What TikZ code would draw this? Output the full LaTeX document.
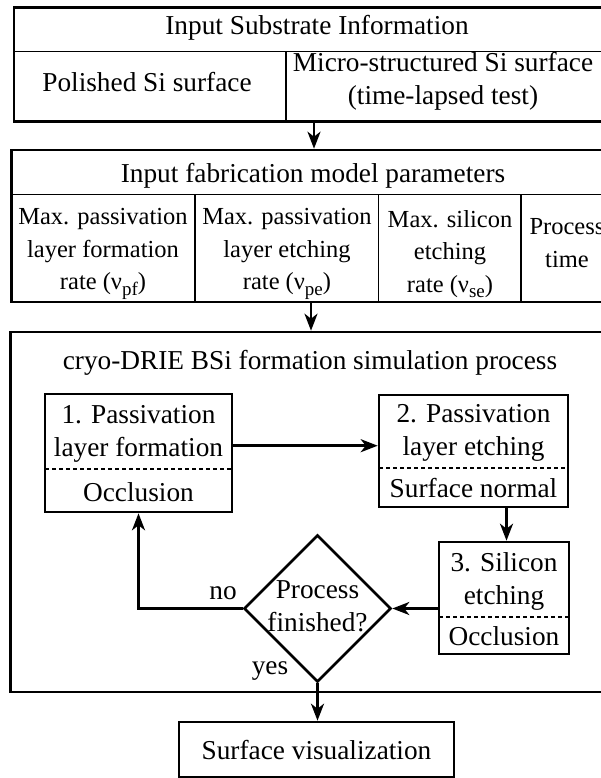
\documentclass[tikz,border=0pt]{standalone}
\usepackage{fontspec}
\setmainfont{Liberation Serif}
\usetikzlibrary{arrows.meta,shapes.geometric}
\newcommand\sbt[1]{\raisebox{-5.5pt}{\fontsize{19}{19}\selectfont #1}}
\begin{document}
\begin{tikzpicture}[x=1pt,y=-1pt,
  every node/.style={font=\fontsize{27.3}{33}\selectfont, inner sep=0pt, align=center},
  celltext/.style={font=\fontsize{24.5}{32.5}\selectfont},
  thickbox/.style={draw, line width=2.6pt},
  thinline/.style={line width=1.3pt},
  dashline/.style={line width=1.2pt, dash pattern=on 4pt off 3pt},
  arr/.style={line width=2.6pt, -{Stealth[length=17pt,width=13pt,inset=5pt]}}
]
\useasboundingbox (0,0) rectangle (601,778);
\clip (0,0) rectangle (601,778);

% ---- Box 1: substrate information
\node[thickbox, minimum width=606pt, minimum height=114pt] (sub) at (317,64.5) {};
\draw[thinline] (14,51.5) -- (620,51.5);
\draw[thinline] (286,51.5) -- (286,121.5);
\node (subT) at (317,28) {Input Substrate Information};
\node (subA) at (147,82) {Polished Si surface};
\node (subB) at (443,81) {Micro-structured Si surface\\(time-lapsed test)};

% ---- Box 2: model parameters
\node[thickbox, minimum width=608.5pt, minimum height=152pt] (par) at (315.75,226) {};
\draw[thinline] (11.5,194.5) -- (620,194.5);
\draw[thinline] (195,194.5) -- (195,302);
\draw[thinline] (378.5,194.5) -- (378.5,302);
\draw[thinline] (521,194.5) -- (521,302);
\node (parT) at (313,176) {Input fabrication model parameters};
\node[celltext] (parA) at (103,254) {Max. passivation\\layer formation\\rate (ν\sbt{pf})};
\node[celltext] (parB) at (287,254) {Max. passivation\\layer etching\\rate (ν\sbt{pe})};
\node[celltext] (parC) at (450,254) {Max. silicon\\etching\\rate (ν\sbt{se})};
\node[celltext] (parD) at (567,243) {Process\\time};

% ---- Big box: simulation process
\node[thickbox, minimum width=609.5pt, minimum height=360pt] (sim) at (315.25,512) {};
\node (simT) at (310,363) {cryo-DRIE BSi formation simulation process};

% step 1
\node[thickbox, minimum width=187pt, minimum height=118pt] (s1) at (138.5,453) {};
\draw[dashline] (45,469) -- (232,469);
\node (s1a) at (138.5,434) {1. Passivation\\layer formation};
\node (s1b) at (138.5,492) {Occlusion};

% step 2
\node[thickbox, minimum width=189pt, minimum height=112pt] (s2) at (473.5,451) {};
\draw[dashline] (379,468) -- (568,468);
\node (s2a) at (473.5,433) {2. Passivation\\layer etching};
\node (s2b) at (473.5,488) {Surface normal};

% step 3
\node[thickbox, minimum width=130pt, minimum height=112pt] (s3) at (504,598) {};
\draw[dashline] (439,617) -- (569,617);
\node (s3a) at (504,581) {3. Silicon\\etching};
\node (s3b) at (504,636) {Occlusion};

% decision
\node[thickbox, diamond, minimum width=147pt, minimum height=147pt] (dec) at (317.5,608.5) {};
\node (decT) at (317.5,606) {Process\\finished?};
\node (no) at (223,593) {no};
\node (yes) at (270,671) {yes};

% output
\node[thickbox, minimum width=275pt, minimum height=55pt] (vis) at (316.5,749.5) {};
\node (visT) at (316.5,750) {Surface visualization};

% ---- connectors
\coordinate (ax1) at (314,0);
\coordinate (ax2) at (311,0);
\coordinate (a12) at (0,445.7);
\coordinate (a23) at (506.5,0);
\draw[arr] (sub.south -| ax1) -- (par.north -| ax1);
\draw[arr] (par.south -| ax2) -- (sim.north -| ax2);
\draw[arr] (s1.east |- a12) -- (s2.west |- a12);
\draw[arr] (s2.south -| a23) -- (s3.north -| a23);
\draw[arr] (s3.west |- dec.east) -- (dec.east);
\draw[arr] (dec.west) -| (s1.south);
\draw[arr] (dec.south) -- (vis.north -| dec.south);
\end{tikzpicture}
\end{document}
